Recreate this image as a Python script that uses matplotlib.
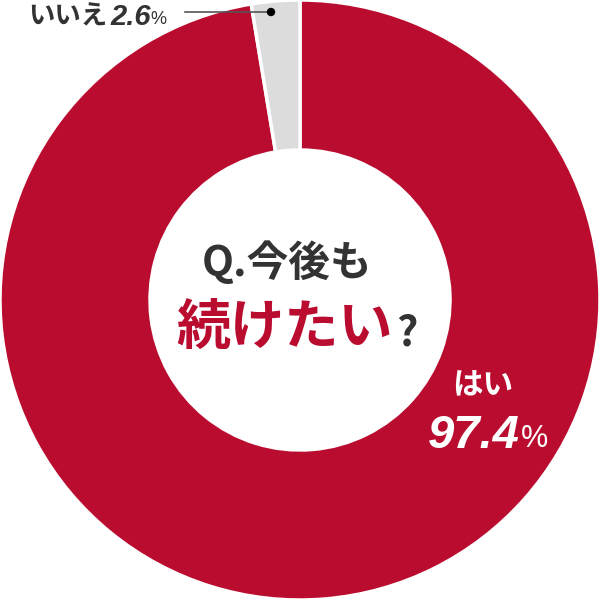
import matplotlib
matplotlib.use("Agg")
import matplotlib.pyplot as plt
from matplotlib.patches import Circle

# ---------------------------------------------------------------------------
# Data
# ---------------------------------------------------------------------------

labels = ["はい", "いいえ"]
values = [97.4, 2.6]
colors = ["#BA0C2F", "#DCDCDC"]

RED = "#BA0C2F"
DARK = "#333333"
JP = ["Noto Sans CJK JP", "DejaVu Sans"]
NUM = ["Liberation Sans", "Noto Sans CJK JP"]


def px(x, y):
    """Pixel position in the 600x600 picture -> data coords."""
    return (x - 300) / 300, (300 - y) / 300


fig = plt.figure(figsize=(6, 6), dpi=100)
ax = fig.add_axes([0, 0, 1, 1])
ax.pie(
    values,
    colors=colors,
    startangle=90,
    counterclock=False,
    radius=1.0,
    wedgeprops=dict(width=0.5, edgecolor="white", linewidth=2.5),
)
ax.set_xlim(-1, 1)
ax.set_ylim(-1, 1)
ax.set_aspect("equal")
ax.axis("off")

# centre question
ax.text(*px(287, 263), "Q.今後も", ha="center", va="center", fontsize=30,
        fontweight="bold", color=DARK, family=JP)
ax.text(*px(285, 329), "続けたい", ha="center", va="center", fontsize=39,
        fontweight="bold", color=RED, family=JP)
ax.text(*px(407, 334), "?", ha="center", va="center", fontsize=30,
        fontweight="bold", color=DARK, family=JP)

# はい label
ax.text(*px(483, 385), labels[0], ha="center", va="center", fontsize=22,
        fontweight="bold", color="white", family=JP)
ax.text(*px(474, 436), f"{values[0]:.1f}", ha="center", va="center", fontsize=34,
        style="italic", fontweight="bold", color="white", family=NUM)
ax.text(*px(534, 439), "%", ha="center", va="center", fontsize=22,
        color="white", family=NUM)

# いいえ label with leader
ax.text(*px(28, 17), labels[1], ha="left", va="center", fontsize=19,
        fontweight="bold", color=DARK, family=JP)
ax.text(*px(110, 17), f"{values[1]:.1f}", ha="left", va="center", fontsize=21,
        style="italic", fontweight="bold", color=DARK, family=NUM)
ax.text(*px(150, 20), "%", ha="left", va="center", fontsize=13,
        color=DARK, family=NUM)
x0, y0 = px(185, 12)
x1, y1 = px(271, 12)
ax.plot([x0, x1], [y0, y1], color="#555555", linewidth=1.2)
ax.add_patch(Circle((x1, y1), 3.5 / 300, color="black", zorder=5))

fig.savefig("out.png", dpi=100)
